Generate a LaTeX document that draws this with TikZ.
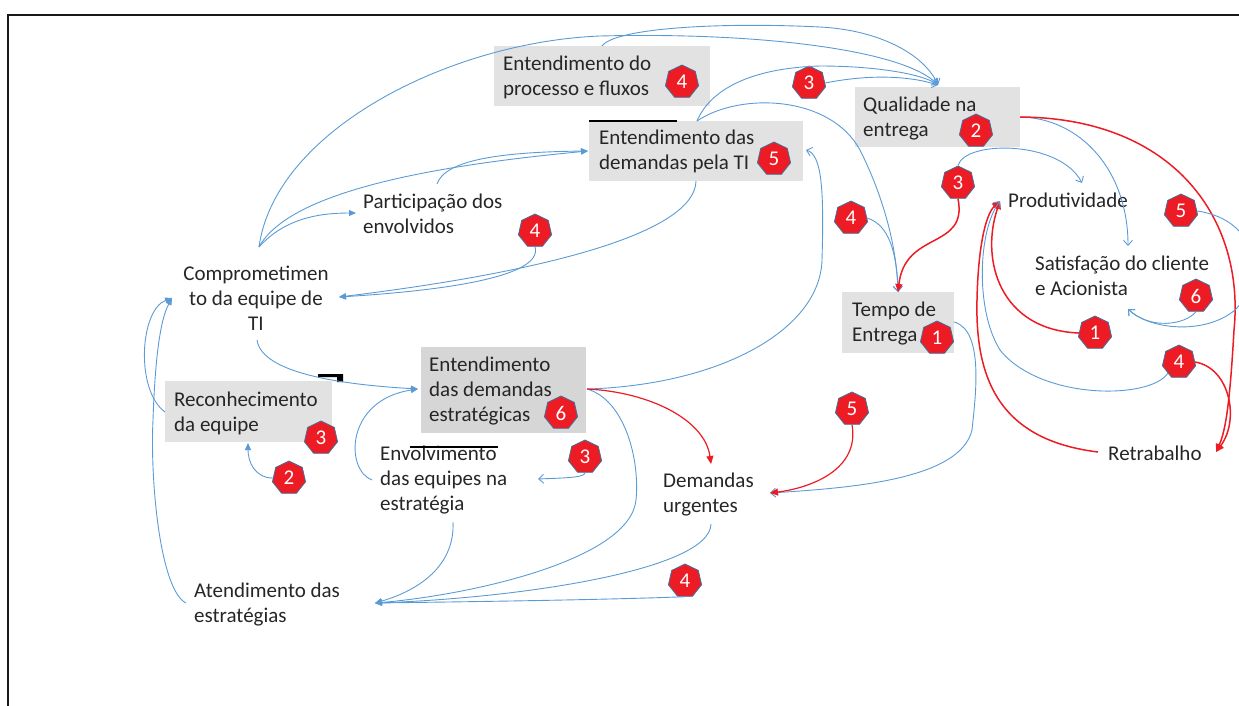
\documentclass[tikz,border=0pt]{standalone}
\usepackage{fontspec}
\setmainfont{Carlito}
\usetikzlibrary{shapes.geometric,arrows.meta}
\definecolor{lblue}{RGB}{91,155,213}
\definecolor{lred}{RGB}{237,28,36}
\definecolor{bdr}{RGB}{65,113,156}
\definecolor{boxg}{RGB}{226,226,226}
\definecolor{boxd}{RGB}{214,214,214}
\definecolor{txt}{RGB}{38,38,38}
\begin{document}
\begin{tikzpicture}[x=1pt,y=-1pt,
  lbl/.style={anchor=base west, inner sep=0pt, align=left, font=\fontsize{21}{25}\selectfont, text=txt},
  gbox/.style={fill=boxg, draw=none, inner sep=0pt, anchor=north west},
  badge/.style={regular polygon, regular polygon sides=7, fill=lred, draw=bdr, line width=0.8pt, minimum size=34pt, inner sep=0pt, text=white, font=\fontsize{21}{21}\selectfont},
  bl/.style={draw=lblue, line width=0.9pt},
  rd/.style={draw=lred, line width=1.5pt},
  fa/.style={-{Triangle[length=7pt,width=6pt]}},
  oa/.style={-{Straight Barb[length=5pt,width=9pt]}},
  ra/.style={-{Triangle[length=8pt,width=7pt]}},
]
\useasboundingbox (0,0) rectangle (1239,705);
\clip (0,0) rectangle (1239,705);
% frame
\draw[line width=2.2pt, black!90] (8,710) -- (8,15) -- (1245,15);

% gray boxes
\node[gbox, minimum width=216pt, minimum height=60pt] (b1) at (494,46) {};
\node[gbox, minimum width=214pt, minimum height=60pt] (b2) at (589,121) {};
\node[gbox, minimum width=165pt, minimum height=60pt] (b3) at (855,87) {};
\node[gbox, minimum width=112pt, minimum height=61pt] (b4) at (842,292) {};
\node[gbox, fill=boxd, minimum width=165pt, minimum height=86pt] (b5) at (421,347) {};
\node[gbox, minimum width=167pt, minimum height=61pt] (b6) at (165,381) {};
\draw[line width=2pt, black] (b2.north west) -- ++(88,0);
\fill[black] (318,374) -- (343,374) -- (343,382) -- (337,382) -- (337,377) -- (318,377) -- cycle;

% texts (anchor = baseline of last line)
\node[lbl] (t1) at (503,95) {Entendimento do\\processo e fluxos};
\node[lbl] (t2) at (599,169) {Entendimento das\\demandas pela TI};
\node[lbl] (t3) at (863,136) {Qualidade na\\entrega};
\node[lbl] (t4) at (852,341) {Tempo de\\Entrega};
\node[lbl] (t5) at (429,421) {Entendimento\\das demandas\\estratégicas};
\node[lbl] (t6) at (174,431) {Reconhecimento\\da equipe};
\node[lbl] (part) at (363,233) {Participação dos\\envolvidos};
\node[lbl, anchor=base, align=center] (comp) at (256,330) {Comprometimen\\to da equipe de\\TI};
\node[lbl] (prod) at (1008,207) {Produtividade};
\node[lbl] (sat) at (1035,295) {Satisfação do cliente\\e Acionista};
\node[lbl] (env) at (380,510) {Envolvimento\\das equipes na\\estratégia};
\draw[line width=1.3pt, black] (410,447) -- (498,447);
\node[lbl] (dem) at (663,512) {Demandas\\urgentes};
\node[lbl] (aten) at (194,622) {Atendimento das\\estratégias};
\node[lbl] (retr) at (1108,460) {Retrabalho};

% badges
\node[badge] (k1) at (682,82) {4};
\node[badge] (k2) at (809,83) {3};
\node[badge] (k3) at (774,159) {5};
\node[badge] (k4) at (976,131) {2};
\node[badge] (k5) at (958,183) {3};
\node[badge] (k6) at (851,218) {4};
\node[badge] (k7) at (1181,211) {5};
\node[badge] (k8) at (535,231) {4};
\node[badge] (k9) at (1196,296) {6};
\node[badge] (k10) at (937,338) {1};
\node[badge] (k11) at (1095,333) {1};
\node[badge] (k12) at (1179,362) {4};
\node[badge] (k13) at (852,409) {5};
\node[badge] (k14) at (321,438) {3};
\node[badge] (k15) at (289,478) {2};
\node[badge] (k16) at (585,457) {3};
\node[badge] (k17) at (561,413) {6};
\node[badge] (k18) at (685,581) {4};

% connection points
\coordinate (compT) at (259,247);
\coordinate (compB) at (257,340);
\coordinate (compL) at (172,298);
\coordinate (compR) at (339,297);
\coordinate (qualA) at (938,85);
\coordinate (qualR) at (1020,117);
\coordinate (b1T) at (602,46);
\coordinate (b2T) at (697,121);
\coordinate (b2B) at (696,181);
\coordinate (b2L) at (588,151);
\coordinate (b2R) at (806,150);
\coordinate (partL) at (356,213);
\coordinate (partT) at (437,184);
\coordinate (tempA) at (898,292);
\coordinate (tempR) at (954,322);
\coordinate (prodA) at (1000,201);
\coordinate (satA) at (1128,246);
\coordinate (satB) at (1128,309);
\coordinate (retrA) at (1216,452);
\coordinate (retrL) at (1098,452);
\coordinate (demA) at (770,493);
\coordinate (demT) at (711,464);
\coordinate (demB) at (711,524);
\coordinate (estL) at (418,389);
\coordinate (estR) at (587,389);
\coordinate (recL) at (165,412);
\coordinate (recB) at (248,443);
\coordinate (envL) at (372,480);
\coordinate (envR) at (538,479);
\coordinate (envB) at (453,522);
\coordinate (atenA) at (375,603);
\coordinate (atenL) at (186,603);

% blue connectors into Qualidade
\draw[bl, oa] (compT) .. controls (275,130) and (450,42) .. (600,36) .. controls (760,32) and (905,50) .. (qualA);
\draw[bl, oa] (b1T) .. controls (615,28) and (720,22) .. (820,27) .. controls (880,30) and (925,55) .. (qualA);
\draw[bl, oa] (b2T) .. controls (710,90) and (750,68) .. (820,66) .. controls (880,66) and (925,75) .. (qualA);
\draw[bl, oa] (k2.east) .. controls (870,74) and (910,76) .. (qualA);

% into Entendimento das demandas pela TI
\draw[bl, fa] (compT) .. controls (290,190) and (440,165) .. (b2L);
\draw[bl, fa] (partT) .. controls (445,160) and (500,152) .. (b2L);
\draw[bl, fa] (compT) .. controls (285,218) and (320,213) .. (partL);

% into Comprometimento
\draw[bl, fa] (b2B) .. controls (695,230) and (560,270) .. (compR);
\draw[bl, fa] (k8.south) .. controls (545,280) and (420,292) .. (compR);
\draw[bl, fa] (recL) .. controls (135,390) and (140,310) .. (compL);
\draw[bl, fa] (atenL) .. controls (160,590) and (150,480) .. (153,420) .. controls (155,360) and (160,320) .. (compL);
\draw[bl, fa] (k15.west) .. controls (255,478) and (248,462) .. (recB);

% into Entendimento estrategicas
\draw[bl, fa] (compB) .. controls (262,375) and (350,385) .. (estL);
\draw[bl, fa] (envL) .. controls (345,470) and (345,400) .. (estL);
\draw[bl, oa] (k16.south) .. controls (585,478) and (560,478) .. (envR);

% into Atendimento
\draw[bl, fa] (envB) .. controls (455,565) and (420,590) .. (atenA);
\draw[bl, fa] (estR) .. controls (625,400) and (640,460) .. (636,500) .. controls (630,560) and (470,595) .. (atenA);
\draw[bl, fa] (demB) .. controls (710,570) and (520,598) .. (atenA);
\draw[bl, fa] (k18.south) .. controls (600,600) and (450,602) .. (atenA);

% estrategicas -> pela TI (hook)
\draw[bl, oa] (estR) .. controls (720,385) and (820,330) .. (822,260) .. controls (824,190) and (822,155) .. (b2R);
\draw[rd, ra, line width=1.2pt] (estR) .. controls (650,392) and (705,420) .. (demT);

% into Tempo de Entrega
\draw[bl, oa] (b2T) .. controls (740,92) and (830,95) .. (860,150) .. controls (885,200) and (897,250) .. (tempA);
\draw[bl, oa] (k6.east) .. controls (890,225) and (897,255) .. (tempA);
\draw[rd, ra] (k5.south) .. controls (968,250) and (905,230) .. (tempA);

% Qualidade -> Satisfacao / Retrabalho
\draw[bl, oa] (qualR) .. controls (1080,118) and (1128,170) .. (satA);
\draw[rd, ra] (qualR) .. controls (1175,118) and (1245,220) .. (1234,330) .. controls (1230,400) and (1226,430) .. (retrA);
\draw[rd, ra] (k12.east) .. controls (1230,368) and (1240,420) .. (retrA);

% into Produtividade
\draw[bl, oa] (k5.north) .. controls (965,140) and (1060,140) .. (1082,183);
\draw[rd, ra] (retrL) .. controls (1000,440) and (975,380) .. (977,300) .. controls (978,250) and (985,215) .. (prodA);
\draw[rd, ra] (k11.west) .. controls (1000,330) and (980,260) .. (prodA);
\draw[bl, oa] (k12.south west) .. controls (1150,400) and (1040,400) .. (1000,350) .. controls (975,310) and (978,230) .. (prodA);

% into Satisfacao (bottom)
\draw[bl, oa] (k7.east) .. controls (1260,220) and (1265,280) .. (1235,310) .. controls (1205,335) and (1150,330) .. (satB);
\draw[bl, oa] (k9.south) .. controls (1185,325) and (1150,330) .. (satB);

% into Demandas urgentes
\draw[bl, oa] (tempR) .. controls (985,330) and (975,400) .. (972,430) .. controls (960,480) and (850,488) .. (demA);
\draw[rd, ra, line width=1.2pt] (k13.south) .. controls (860,470) and (810,488) .. (demA);
\end{tikzpicture}
\end{document}
